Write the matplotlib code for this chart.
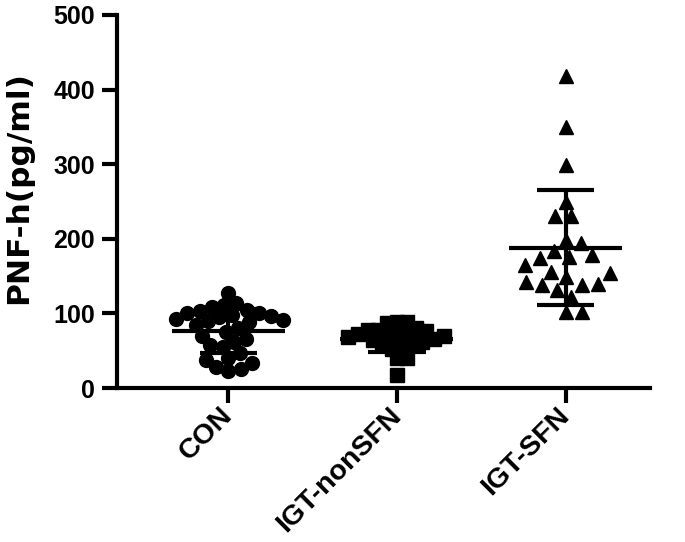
import numpy as np
import matplotlib
matplotlib.use("Agg")
import matplotlib.pyplot as plt

plt.rcParams['font.family'] = ['Liberation Sans', 'DejaVu Sans']
plt.rcParams['font.weight'] = 'bold'

categories = ["CON", "IGT-nonSFN", "IGT-SFN"]
con_vals = [127, 114, 111, 108, 105, 103, 100, 100, 98, 96, 95, 93, 91, 90, 88,
            85, 80, 75, 70, 66, 62, 58, 55, 47, 40, 38, 33, 28, 25, 23]
nonsfn_vals = [88, 88, 87, 80, 78, 78, 76, 75, 73, 72, 70, 68, 66, 64, 62, 60,
               58, 55, 52, 40, 40, 18]
sfn_vals = [418, 350, 299, 250, 230, 230, 194, 198, 178, 183, 174, 175, 165, 156,
            154, 149, 142, 138, 138, 140, 131, 122, 102, 102]
groups = [con_vals, nonsfn_vals, sfn_vals]
markers = ['o', 's', '^']
msizes = [10, 9.5, 10.5]
spacing = [12.5, 10.5, 16.0]

W, H, DPI = 685, 542, 100
fig = plt.figure(figsize=(W / DPI, H / DPI), dpi=DPI)
ax = fig.add_axes([117 / W, 1 - 388 / H, (650 - 117) / W, (388 - 15) / H])
xmin, xmax = -0.66, 2.5
ymin, ymax = 0, 500
ax.set_xlim(xmin, xmax)
ax.set_ylim(ymin, ymax)

ppx = (650 - 117) / (xmax - xmin)
ppy = (388 - 15) / (ymax - ymin)


def swarm(vals, d):
    # place points from the extremes toward the middle
    order = np.argsort(-np.abs(vals - np.median(vals)), kind='stable')
    placed = []
    offs = np.zeros(len(vals))
    for i in order:
        y = vals[i] * ppy
        cands = [0.0]
        for (px, py) in placed:
            dy = y - py
            if abs(dy) < d:
                dx = np.sqrt(d * d - dy * dy)
                cands += [px + dx, px - dx]
        cands.sort(key=abs)
        for c in cands:
            ok = all((c - px) ** 2 + (y - py) ** 2 >= d * d - 1e-6 for (px, py) in placed)
            if ok:
                placed.append((c, y))
                offs[i] = c
                break
    return offs / ppx


LW = 3.0
for gi, vals in enumerate(groups):
    v = np.array(vals, dtype=float)
    offs = swarm(v, spacing[gi])
    ax.plot(gi + offs, v, linestyle='none', marker=markers[gi], ms=msizes[gi],
            color='black', zorder=2)
    m = v.mean()
    s = v.std(ddof=1)
    ax.plot([gi - 0.335, gi + 0.335], [m, m], color='black', lw=LW, zorder=3,
            solid_capstyle='butt')
    ax.plot([gi, gi], [m - s, m + s], color='black', lw=LW, zorder=3,
            solid_capstyle='butt')
    for yy in (m - s, m + s):
        ax.plot([gi - 0.17, gi + 0.17], [yy, yy], color='black', lw=LW, zorder=3,
                solid_capstyle='butt')

for sp in ['top', 'right']:
    ax.spines[sp].set_visible(False)
for sp in ['left', 'bottom']:
    ax.spines[sp].set_linewidth(LW)
ax.tick_params(axis='both', width=LW, length=11, direction='out')
ax.tick_params(axis='y', labelsize=18, pad=5)
ax.tick_params(axis='x', labelsize=20.5, pad=6)
ax.set_yticks([0, 100, 200, 300, 400, 500])
ax.set_xticks(range(3))
ax.set_xticklabels(categories, rotation=45, ha='right', va='center',
                   rotation_mode='anchor', fontsize=20.5, fontweight='bold')
for lab in ax.get_yticklabels():
    lab.set_fontweight('bold')
ax.set_ylabel("PNF-h(pg/ml)", fontsize=22.5, fontweight='bold',
              family=['DejaVu Sans'])
ax.yaxis.set_label_coords((33 - 117) / 533, (388 - 188) / 373)

fig.savefig("out.png", dpi=DPI)
